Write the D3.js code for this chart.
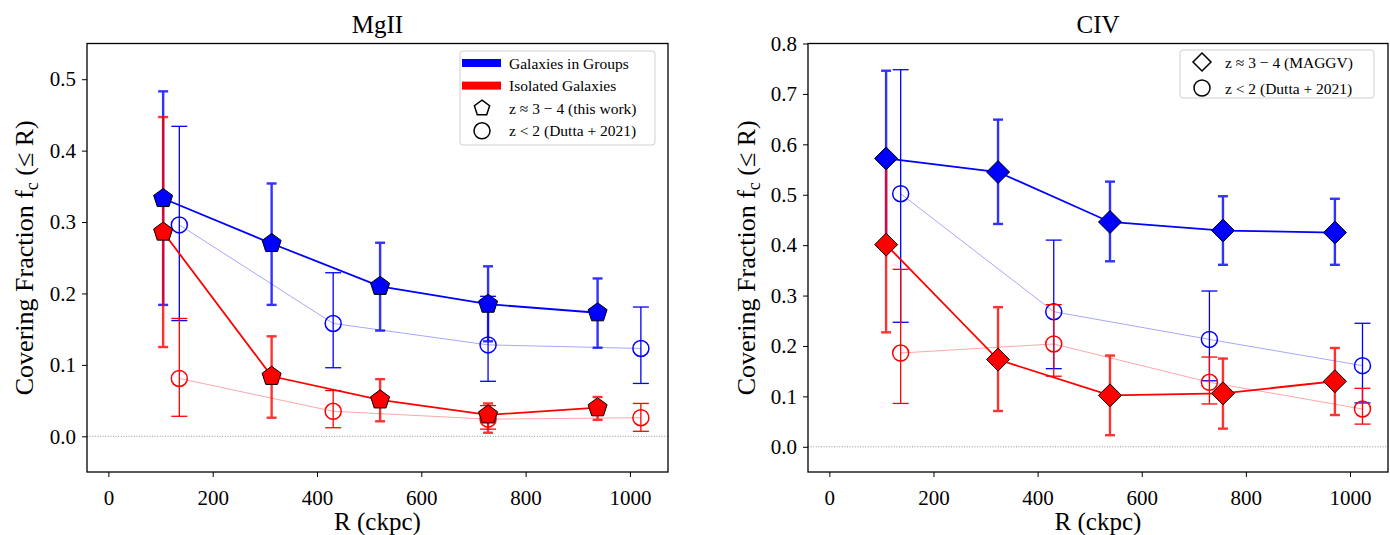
<!DOCTYPE html>
<html>
<head>
<meta charset="utf-8">
<script src="https://cdn.jsdelivr.net/npm/d3@7"></script>
<style>
  html, body { margin: 0; padding: 0; background: #fff; }
  svg { display: block; }
  text { font-family: "Liberation Serif", "DejaVu Serif", serif; fill: #000; }
</style>
</head>
<body>
<svg id="chart" width="1390" height="535"></svg>
<script>
// ---- MgII: this work (z ~ 3-4) ----
const mgR        = [105, 313, 521, 728, 938];
const mgGroupFc  = [0.333, 0.270, 0.210, 0.185, 0.173];
const mgGroupLo  = [0.184, 0.184, 0.148, 0.133, 0.124];
const mgGroupHi  = [0.483, 0.354, 0.271, 0.238, 0.221];
const mgIsoFc    = [0.286, 0.084, 0.051, 0.030, 0.040];
const mgIsoLo    = [0.125, 0.026, 0.021, 0.005, 0.023];
const mgIsoHi    = [0.447, 0.140, 0.080, 0.046, 0.055];
// ---- MgII: Dutta+2021 (z < 2) ----
const mgDuttaR        = [136, 431, 728, 1021];
const mgDuttaGroupFc  = [0.296, 0.158, 0.128, 0.123];
const mgDuttaGroupLo  = [0.162, 0.096, 0.077, 0.074];
const mgDuttaGroupHi  = [0.434, 0.229, 0.196, 0.181];
const mgDuttaIsoFc    = [0.081, 0.035, 0.024, 0.026];
const mgDuttaIsoLo    = [0.028, 0.012, 0.010, 0.007];
const mgDuttaIsoHi    = [0.165, 0.064, 0.043, 0.046];

// ---- CIV: MAGGV (z ~ 3-4) ----
const civR        = [109, 324, 539, 756, 971];
const civGroupFc  = [0.572, 0.545, 0.446, 0.429, 0.425];
const civGroupLo  = [0.401, 0.442, 0.368, 0.361, 0.361];
const civGroupHi  = [0.746, 0.649, 0.526, 0.497, 0.492];
const civIsoFc    = [0.401, 0.173, 0.102, 0.106, 0.130];
const civIsoLo    = [0.227, 0.071, 0.023, 0.036, 0.063];
const civIsoHi    = [0.572, 0.277, 0.181, 0.175, 0.196];
// ---- CIV: Dutta+2021 (z < 2) ----
const civDuttaR        = [137, 431, 730, 1024];
const civDuttaGroupFc  = [0.502, 0.268, 0.213, 0.161];
const civDuttaGroupLo  = [0.247, 0.155, 0.131, 0.087];
const civDuttaGroupHi  = [0.748, 0.410, 0.309, 0.245];
const civDuttaIsoFc    = [0.186, 0.204, 0.128, 0.075];
const civDuttaIsoLo    = [0.086, 0.140, 0.085, 0.045];
const civDuttaIsoHi    = [0.352, 0.282, 0.178, 0.116];

// ---- axis ticks ----
const xTicks     = [0, 200, 400, 600, 800, 1000];
const mgYTicks   = [0.0, 0.1, 0.2, 0.3, 0.4, 0.5];
const civYTicks  = [0.0, 0.1, 0.2, 0.3, 0.4, 0.5, 0.6, 0.7, 0.8];

const BLUE = "#0000ff", RED = "#ff0000";
const svg = d3.select("#chart");

function zip(xs, fc, lo, hi) {
  return xs.map((r, i) => ({ r, fc: fc[i], lo: lo[i], hi: hi[i] }));
}

// Regular pentagon path centred on the origin
function pentagon(rad) {
  const pts = d3.range(5).map(k => {
    const a = -Math.PI / 2 + k * 2 * Math.PI / 5;
    return [rad * Math.cos(a), rad * Math.sin(a)];
  });
  return "M" + pts.map(p => p.join(",")).join("L") + "Z";
}
// Square rotated by 45 degrees
function diamond(half) {
  return `M0,${-half}L${half},0L0,${half}L${-half},0Z`;
}

function panel(cfg) {
  const { left, right, top, bottom } = cfg.box;
  const x = d3.scaleLinear().domain([-41, 1073]).range([left, right]);
  const y = d3.scaleLinear().domain(cfg.yDomain).range([bottom, top]);
  const g = svg.append("g");

  // zero reference line
  g.append("line")
    .attr("x1", left).attr("x2", right)
    .attr("y1", y(0)).attr("y2", y(0))
    .attr("stroke", "#888").attr("stroke-width", 0.9)
    .attr("stroke-dasharray", "1,1.6");

  const line = d3.line().x(d => x(d.r)).y(d => y(d.fc));

  function errorBars(data, color, width, capHalf, opacity) {
    const eg = g.append("g").attr("stroke", color).attr("stroke-width", width)
      .attr("opacity", opacity).attr("fill", "none");
    data.forEach(d => {
      eg.append("line").attr("x1", x(d.r)).attr("x2", x(d.r))
        .attr("y1", y(d.lo)).attr("y2", y(d.hi));
      [d.lo, d.hi].forEach(v => {
        eg.append("line").attr("x1", x(d.r) - capHalf).attr("x2", x(d.r) + capHalf)
          .attr("y1", y(v)).attr("y2", y(v));
      });
    });
  }

  // Dutta+2021 comparison sample: faint line, thin error bars, open circles
  cfg.dutta.forEach(s => {
    g.append("path").datum(s.data).attr("d", line)
      .attr("fill", "none").attr("stroke", s.color)
      .attr("stroke-width", 1).attr("opacity", 0.35);
    errorBars(s.data, s.color, 1.3, 8, 1);
    g.append("g").selectAll("circle").data(s.data).join("circle")
      .attr("cx", d => x(d.r)).attr("cy", d => y(d.fc)).attr("r", 8)
      .attr("fill", "none").attr("stroke", s.color).attr("stroke-width", 1.5);
  });

  // high-redshift sample: solid line, thick error bars, filled markers
  cfg.main.forEach(s => {
    errorBars(s.data, s.color, 2.4, 5, 0.8);
  });
  cfg.main.forEach(s => {
    g.append("path").datum(s.data).attr("d", line)
      .attr("fill", "none").attr("stroke", s.color).attr("stroke-width", 1.8);
    g.append("g").selectAll("path").data(s.data).join("path")
      .attr("transform", d => `translate(${x(d.r)},${y(d.fc)})`)
      .attr("d", cfg.marker)
      .attr("fill", s.color).attr("stroke", "#000").attr("stroke-width", 1);
  });

  // frame
  g.append("rect").attr("x", left).attr("y", top)
    .attr("width", right - left).attr("height", bottom - top)
    .attr("fill", "none").attr("stroke", "#000").attr("stroke-width", 1.3);

  // axes
  const xa = g.append("g").attr("transform", `translate(0,${bottom})`)
    .call(d3.axisBottom(x).tickValues(xTicks).tickSize(5).tickPadding(8)
      .tickFormat(d3.format("d")));
  const ya = g.append("g").attr("transform", `translate(${left},0)`)
    .call(d3.axisLeft(y).tickValues(cfg.yTicks).tickSize(5).tickPadding(6)
      .tickFormat(d3.format(".1f")));
  [xa, ya].forEach(a => {
    a.select(".domain").remove();
    a.selectAll(".tick line").attr("stroke", "#000").attr("stroke-width", 1);
    a.selectAll(".tick text").style("font-family", '"Liberation Serif", serif')
      .style("font-size", "21px").attr("fill", "#000");
  });
  xa.selectAll(".tick text").attr("dy", "0.95em");

  // title
  g.append("text").attr("x", (left + right) / 2).attr("y", 33)
    .attr("text-anchor", "middle").style("font-size", "25px").text(cfg.title);

  // x label
  g.append("text").attr("x", (left + right) / 2).attr("y", 530)
    .attr("text-anchor", "middle").style("font-size", "25px").text("R (ckpc)");

  // y label
  const yl = g.append("text")
    .attr("transform", `translate(${cfg.yLabelX},${(top + bottom) / 2}) rotate(-90)`)
    .attr("text-anchor", "middle").style("font-size", "26px");
  yl.append("tspan").text("Covering Fraction f");
  yl.append("tspan").attr("dy", 5).style("font-size", "18px").text("c");
  yl.append("tspan").attr("dy", -5).text(" (\u2264 R)");

  // legend
  const L = cfg.legend;
  const lg = g.append("g");
  lg.append("rect").attr("x", L.x).attr("y", L.y).attr("width", L.w).attr("height", L.h)
    .attr("rx", 3).attr("fill", "#fff").attr("fill-opacity", 0.8)
    .attr("stroke", "#d0d0d0").attr("stroke-width", 1);
  L.items.forEach((it, i) => {
    const cy = L.y + 12 + i * L.step;
    if (it.patch) {
      lg.append("rect").attr("x", L.x + 2).attr("y", cy - 4).attr("width", 39).attr("height", 8)
        .attr("fill", it.patch);
    } else if (it.shape === "circle") {
      lg.append("circle").attr("cx", L.mx).attr("cy", cy).attr("r", 8)
        .attr("fill", "none").attr("stroke", "#000").attr("stroke-width", 1.5);
    } else {
      lg.append("path").attr("transform", `translate(${L.mx},${cy})`)
        .attr("d", it.shape).attr("fill", "none").attr("stroke", "#000").attr("stroke-width", 1.5);
    }
    lg.append("text").attr("x", L.tx).attr("y", cy + 5.5)
      .style("font-size", "15.5px").text(it.label);
  });
}

panel({
  title: "MgII",
  box: { left: 87, right: 668, top: 43.5, bottom: 472 },
  yDomain: [-0.05, 0.55],
  yTicks: mgYTicks,
  yLabelX: 33,
  marker: pentagon(10),
  main: [
    { color: BLUE, data: zip(mgR, mgGroupFc, mgGroupLo, mgGroupHi) },
    { color: RED,  data: zip(mgR, mgIsoFc, mgIsoLo, mgIsoHi) }
  ],
  dutta: [
    { color: BLUE, data: zip(mgDuttaR, mgDuttaGroupFc, mgDuttaGroupLo, mgDuttaGroupHi) },
    { color: RED,  data: zip(mgDuttaR, mgDuttaIsoFc, mgDuttaIsoLo, mgDuttaIsoHi) }
  ],
  legend: {
    x: 460, y: 51, w: 195, h: 94, step: 22.6, mx: 482, tx: 509,
    items: [
      { patch: BLUE, label: "Galaxies in Groups" },
      { patch: RED,  label: "Isolated Galaxies" },
      { shape: pentagon(8), label: "z \u2248 3 \u2212 4 (this work)" },
      { shape: "circle", label: "z < 2 (Dutta + 2021)" }
    ]
  }
});

panel({
  title: "CIV",
  box: { left: 808, right: 1388, top: 43.5, bottom: 472 },
  yDomain: [-0.05, 0.8],
  yTicks: civYTicks,
  yLabelX: 755,
  marker: diamond(11.5),
  main: [
    { color: BLUE, data: zip(civR, civGroupFc, civGroupLo, civGroupHi) },
    { color: RED,  data: zip(civR, civIsoFc, civIsoLo, civIsoHi) }
  ],
  dutta: [
    { color: BLUE, data: zip(civDuttaR, civDuttaGroupFc, civDuttaGroupLo, civDuttaGroupHi) },
    { color: RED,  data: zip(civDuttaR, civDuttaIsoFc, civDuttaIsoLo, civDuttaIsoHi) }
  ],
  legend: {
    x: 1180, y: 50, w: 194, h: 48, step: 26, mx: 1202, tx: 1225,
    items: [
      { shape: diamond(9), label: "z \u2248 3 \u2212 4 (MAGGV)" },
      { shape: "circle", label: "z < 2 (Dutta + 2021)" }
    ]
  }
});
</script>
</body>
</html>
